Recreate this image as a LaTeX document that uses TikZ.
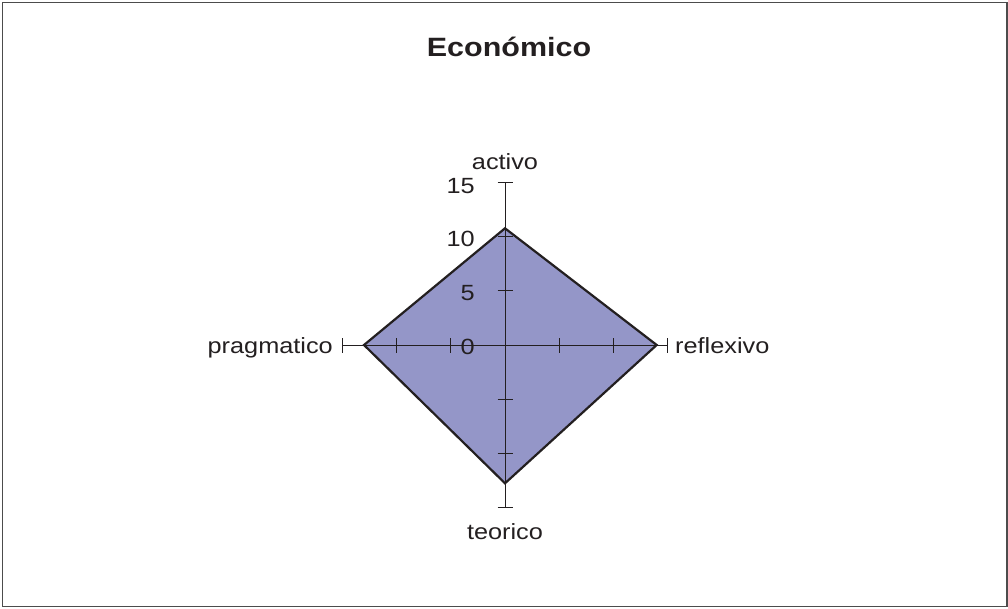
\documentclass[tikz,border=0pt]{standalone}
\usepackage{fontspec}
\setmainfont[FakeStretch=1.15]{Liberation Sans}
\definecolor{radarfill}{RGB}{148,150,200}
\definecolor{ink}{RGB}{35,31,32}
\begin{document}
\begin{tikzpicture}[x=1pt,y=1pt]
\tikzstyle{every node}+=[inner sep=0pt, text=ink]
\tikzstyle{axislabel}=[font=\fontsize{22}{26}\selectfont]
\useasboundingbox (-505,345) rectangle (503,-263);
\draw [black!70, line width=1.3pt] (-502.5,342.5) rectangle (502,-261.5);
% data points
\coordinate (A) at (0,116.7);
\coordinate (R) at (151.7,0);
\coordinate (T) at (0,-138.3);
\coordinate (P) at (-141,0);
\fill [radarfill] (A) -- (R) -- (T) -- (P) -- cycle;
% axes
\draw [ink, line width=0.8pt] (0,-162.7) -- (0,162.7);
\draw [ink, line width=0.8pt] (-162.7,0) -- (162.7,0);
\foreach \r in {54.2,108.5,162.7} {
  \draw [ink, line width=0.8pt] (-7.5,\r) -- (7.5,\r);
  \draw [ink, line width=0.8pt] (-7.5,-\r) -- (7.5,-\r);
  \draw [ink, line width=0.8pt] (\r,-7.5) -- (\r,7.5);
  \draw [ink, line width=0.8pt] (-\r,-7.5) -- (-\r,7.5);
}
\draw [ink, line width=2.2pt, line join=miter] (A) -- (R) -- (T) -- (P) -- cycle;
% scale
\node [axislabel, anchor=east] (v15) at (-30,159) {15};
\node [axislabel, anchor=east] (v10) at (-30,106) {10};
\node [axislabel, anchor=east] (v5) at (-30,52) {5};
\node [axislabel, anchor=east] (v0) at (-30,-2) {0};
% labels
\node [anchor=base, font=\fontsize{26.5}{30}\selectfont\bfseries] (titulo) at (4,288.3) {Económico};
\node [axislabel, anchor=base] (activo) at (0,175) {activo};
\node [axislabel, anchor=base] (teorico) at (0,-194) {teorico};
\node [axislabel, anchor=base east] (pragmatico) at (-172,-8.5) {pragmatico};
\node [axislabel, anchor=base west] (reflexivo) at (170,-8.5) {reflexivo};
\end{tikzpicture}
\end{document}
